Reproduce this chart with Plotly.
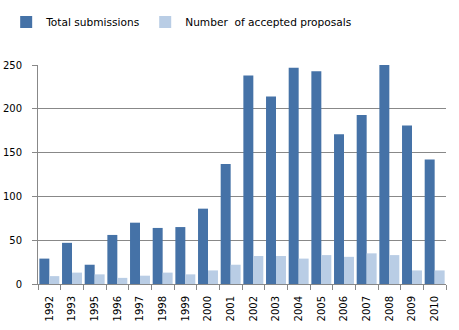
import plotly.graph_objects as go

years = ["1992", "1993", "1995", "1996", "1997", "1998", "1999", "2000", "2001",
         "2002", "2003", "2004", "2005", "2006", "2007", "2008", "2009", "2010"]
total_submissions = [29, 47, 22, 56, 70, 64, 65, 86, 137,
                     238, 214, 247, 243, 171, 193, 250, 181, 142]
accepted_proposals = [9, 13, 11, 7, 9.5, 13, 11, 15.5, 22,
                      32, 32, 29, 33, 31, 35, 33, 15.5, 15.5]

fig = go.Figure()
fig.add_trace(go.Bar(x=years, y=total_submissions, name="Total submissions",
                     marker=dict(color="#4572A7", line=dict(width=0))))
fig.add_trace(go.Bar(x=years, y=accepted_proposals, name="Number  of accepted proposals",
                     marker=dict(color="#B9CDE5", line=dict(width=0))))

fig.update_layout(
    width=459, height=330,
    margin=dict(l=38, r=13, t=65, b=46, autoexpand=False),
    paper_bgcolor="white", plot_bgcolor="white",
    barmode="group", bargap=0.12, bargroupgap=0,
    font=dict(family="DejaVu Sans, Verdana, sans-serif", size=10, color="#000000"),
    legend=dict(orientation="h", x=-0.078, xanchor="left", y=1.196, yanchor="middle",
                font=dict(size=10.6), traceorder="normal"),
    showlegend=True,
)
fig.update_xaxes(
    type="category", tickangle=-90, showline=True, linecolor="#888888", linewidth=1,
    ticks="outside", tickson="boundaries", ticklen=5, tickcolor="#888888",
    showgrid=False, tickfont=dict(size=10), ticklabelstandoff=7,
)
fig.update_yaxes(
    range=[0, 250], dtick=50, showline=True, linecolor="#888888", linewidth=1,
    ticks="outside", ticklen=5, tickcolor="#888888",
    showgrid=True, gridcolor="#888888", gridwidth=1, zeroline=False,
    tickfont=dict(size=10), ticklabelstandoff=8,
)

fig.write_html("out.html")
